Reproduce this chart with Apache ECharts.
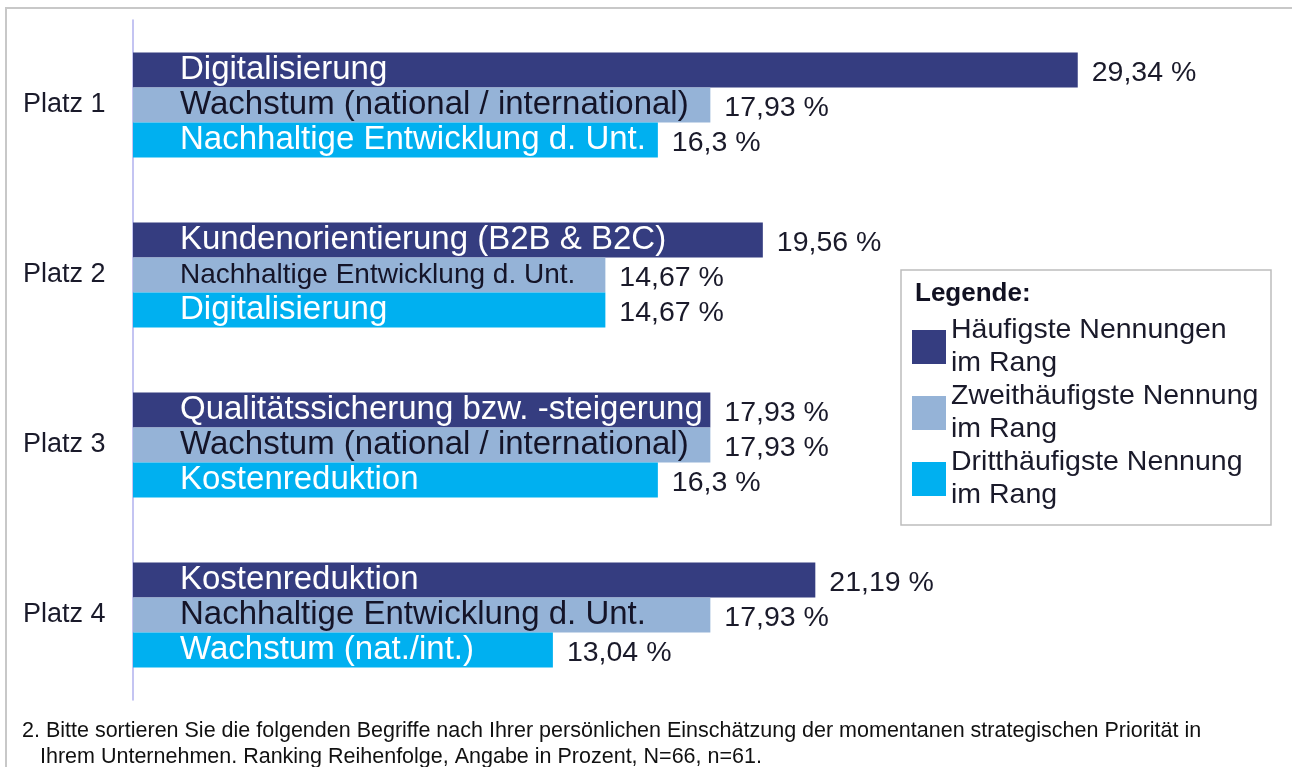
<html>
<head>
<meta charset="utf-8" />
<script src="https://cdn.jsdelivr.net/npm/echarts@6/dist/echarts.min.js"></script>
<style type="text/css">
	html, body, #main {
	width: 100%;
	height: 100%;
	margin: 0;
	background: #fff;
}
</style>
</head>
<body>
	<div id='main'></div>
	<script>
		var places = ['Platz 1', 'Platz 2', 'Platz 3', 'Platz 4'];

		var seriesNames = ['Häufigste Nennungen\nim Rang', 'Zweithäufigste Nennung\nim Rang', 'Dritthäufigste Nennung\nim Rang'];

		var rank1Names = ['Digitalisierung', 'Kundenorientierung (B2B & B2C)', 'Qualitätssicherung bzw. -steigerung', 'Kostenreduktion'];
		var rank1Values = [29.34, 19.56, 17.93, 21.19];

		var rank2Names = ['Wachstum (national / international)', 'Nachhaltige Entwicklung d. Unt.', 'Wachstum (national / international)', 'Nachhaltige Entwicklung d. Unt.'];
		var rank2Values = [17.93, 14.67, 17.93, 17.93];

		var rank3Names = ['Nachhaltige Entwicklung d. Unt.', 'Digitalisierung', 'Kostenreduktion', 'Wachstum (nat./int.)'];
		var rank3Values = [16.3, 14.67, 16.3, 13.04];

		var colors = ['#353d80', '#95b3d7', '#00b0f0'];
		var nameColors = ['#ffffff', '#141428', '#ffffff'];
		var font = "'Liberation Sans', Arial, sans-serif";

		var chart = echarts.init(document.getElementById('main'));

		function fmt(v) {
			return String(v).replace('.', ',') + ' %';
		}

		// a zero-width helper bar carries the name label at the start of each bar
		function nameSeries(idx, names) {
			return {
				name: 'label' + idx,
				type: 'bar',
				stack: 's' + idx,
				barWidth: 35,
				barGap: 0,
				z: 5,
				silent: true,
				data: names.map(function(n, i) {
					var item = { value: 0, name: n };
					// Platz 2, second bar uses a smaller font
					if (idx === 1 && i === 1) {
						item.label = { fontSize: 28 };
					}
					return item;
				}),
				label: {
					show: true,
					position: 'right',
					distance: 47,
					fontFamily: font,
					fontSize: 33,
					color: nameColors[idx],
					formatter: function(p) { return p.name; }
				}
			};
		}

		function valueSeries(idx, values) {
			return {
				name: seriesNames[idx],
				type: 'bar',
				stack: 's' + idx,
				barWidth: 35,
				barGap: 0,
				itemStyle: { color: colors[idx] },
				data: values,
				label: {
					show: true,
					position: 'right',
					distance: 14,
					offset: [0, 3],
					fontFamily: font,
					fontSize: 28.5,
					color: '#1a1a2a',
					formatter: function(p) { return fmt(p.value); }
				}
			};
		}

		var option = {
			animation: false,
			grid: { left: 133, top: 20, bottom: 67, right: 193 },
			xAxis: {
				type: 'value',
				min: 0,
				max: 30,
				show: false
			},
			yAxis: {
				type: 'category',
				inverse: true,
				data: places,
				axisLine: { lineStyle: { color: '#b0b0ee', width: 1.5 } },
				axisTick: { show: false },
				axisLabel: {
					align: 'left',
					margin: 110,
					fontFamily: font,
					fontSize: 27,
					color: '#1a1a2a'
				}
			},
			legend: {
				data: seriesNames,
				orient: 'vertical',
				left: 912,
				top: 314,
				padding: 0,
				itemGap: 0,
				itemWidth: 34,
				itemHeight: 34,
				icon: 'rect',
				selectedMode: false,
				textStyle: {
					fontFamily: font,
					fontSize: 28.5,
					lineHeight: 33,
					color: '#1a1a2a'
				}
			},
			graphic: [
				{
					type: 'rect',
					shape: { x: 6, y: 8, width: 1320, height: 800 },
					style: { fill: null, stroke: '#c8c8c8', lineWidth: 2 },
					silent: true
				},
				{
					type: 'rect',
					shape: { x: 901, y: 270, width: 370, height: 255 },
					style: { fill: null, stroke: '#bdbdbd', lineWidth: 1.5 },
					silent: true
				},
				{
					type: 'text',
					x: 915,
					y: 294,
					style: {
						text: 'Legende:',
						font: 'bold 26px ' + font,
						fill: '#111122',
						verticalAlign: 'middle'
					}
				},
				{
					type: 'text',
					x: 22,
					y: 731,
					style: {
						text: '2. Bitte sortieren Sie die folgenden Begriffe nach Ihrer persönlichen Einschätzung der momentanen strategischen Priorität in',
						font: '21.5px ' + font,
						fill: '#111111',
						verticalAlign: 'middle'
					}
				},
				{
					type: 'text',
					x: 40,
					y: 757,
					style: {
						text: 'Ihrem Unternehmen. Ranking Reihenfolge, Angabe in Prozent, N=66, n=61.',
						font: '21.5px ' + font,
						fill: '#111111',
						verticalAlign: 'middle'
					}
				}
			],
			series: [
				nameSeries(0, rank1Names), valueSeries(0, rank1Values),
				nameSeries(1, rank2Names), valueSeries(1, rank2Values),
				nameSeries(2, rank3Names), valueSeries(2, rank3Values)
			]
		};

		chart.setOption(option);

		window.onresize = function() {
			chart.resize();
		}
	</script>
</body>
</html>
